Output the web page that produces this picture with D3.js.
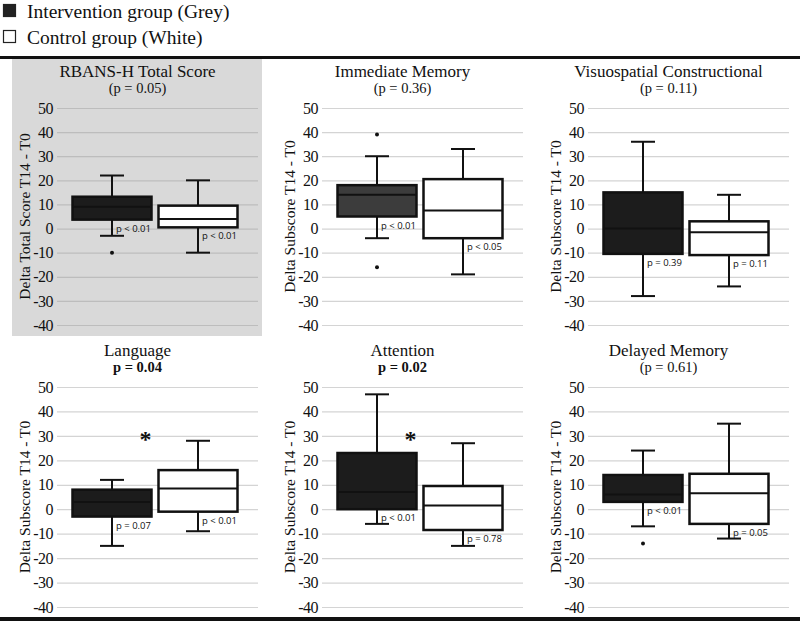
<!DOCTYPE html>
<html><head><meta charset="utf-8">
<script src="https://cdn.jsdelivr.net/npm/d3@7"></script>
<style>body{margin:0;background:#fff}svg{display:block}</style>
</head><body>
<svg id="c" width="800" height="621"></svg>
<script>
// ---- data ----
const titles = ["RBANS-H Total Score","Immediate Memory","Visuospatial Constructional","Language","Attention","Delayed Memory"];
const pOverall = ["(p = 0.05)","(p = 0.36)","(p = 0.11)","p = 0.04","p = 0.02","(p = 0.61)"];
const significant = [false,false,false,true,true,false];
const yLabels = ["Delta Total Score T14 - T0","Delta Subscore T14 - T0","Delta Subscore T14 - T0","Delta Subscore T14 - T0","Delta Subscore T14 - T0","Delta Subscore T14 - T0"];
const groups = ["Intervention group (Grey)","Control group (White)"];
// [whiskerLow, Q1, median, Q3, whiskerHigh]
const interventionStats = [[-3,3.7,9,13.2,22],[-4,5,14,18,30],[-28,-10.5,0,15,36],[-15,-3,3,8,12],[-6,0,7,23,47],[-7,3,6,14,24]];
const controlStats = [[-10,0.5,4,9.5,20],[-19,-4,7.5,20.5,33],[-24,-11,-1.5,3,14],[-9,-1,8.5,16,28],[-15,-8.5,1.5,9.5,27],[-12,-6,6.5,14.5,35]];
const interventionOutliers = [[-10],[39,-16],[],[],[],[-14]];
const controlOutliers = [[],[],[],[],[],[]];
const interventionP = ["p < 0.01","p < 0.01","p = 0.39","p = 0.07","p < 0.01","p < 0.01"];
const controlP = ["p < 0.01","p < 0.05","p = 0.11","p < 0.01","p = 0.78","p = 0.05"];
const yTicks = [50,40,30,20,10,0,-10,-20,-30,-40];
const interventionFill = ["#1c1c1c","#3c3c3c","#1c1c1c","#1c1c1c","#1c1c1c","#1c1c1c"];

// ---- layout ----
const svg = d3.select("#c");
const serif = "'Liberation Serif','Times New Roman',serif";
const sans = "'Open Sans','Liberation Sans',sans-serif";
const colX = [57,322,588];
const rowY = [[108,325],[387,607]]; // [y of 50, y of -40]
const gridW = 201;
const boxW = 79;

// legend
groups.forEach((g,i)=>{
  const y0 = 4 + i*26;
  svg.append("rect").attr("x",3.5).attr("y",y0+0.5).attr("width",12).attr("height",12)
    .attr("fill", i===0 ? "#222" : "#fff").attr("stroke","#222").attr("stroke-width",1.2);
  svg.append("text").attr("x",27).attr("y",y0+14).attr("font-family",serif).attr("font-size",19.5)
    .attr("fill","#111").text(g);
});
svg.append("rect").attr("x",0).attr("y",56).attr("width",800).attr("height",3).attr("fill","#111");
svg.append("rect").attr("x",0).attr("y",617).attr("width",800).attr("height",4).attr("fill","#111");

// grey background panel 1
svg.append("rect").attr("x",12).attr("y",59).attr("width",250).attr("height",277).attr("fill","#d9d9d9");

titles.forEach((t,k)=>{
  const col = k%3, row = Math.floor(k/3);
  const x0 = colX[col];
  const y = d3.scaleLinear().domain([50,-40]).range(rowY[row]);
  const x = d3.scalePoint().domain(groups).range([x0+55, x0+141]);
  const g = svg.append("g");

  // gridlines
  const axis = d3.axisLeft(y).tickValues(yTicks).tickSize(-gridW).tickPadding(4).tickFormat(v=>String(v));
  const ax = g.append("g").attr("transform",`translate(${x0},0)`).call(axis);
  ax.select(".domain").remove();
  ax.selectAll(".tick line").attr("stroke", k===0 ? "#bdbdbd" : "#d4d4d4").attr("stroke-width",1.2);
  ax.selectAll(".tick text").attr("font-family",serif).attr("font-size",16).attr("fill","#111")
    .attr("x",-4).attr("letter-spacing","-0.5");

  // title
  const cx = x0 + gridW/2 - 20;
  g.append("text").attr("x",cx).attr("y",rowY[row][0]-31).attr("text-anchor","middle")
    .attr("font-family",serif).attr("font-size",17).attr("fill","#111").text(t);
  g.append("text").attr("x",cx).attr("y",rowY[row][0]-15).attr("text-anchor","middle")
    .attr("font-family",serif).attr("font-size",14.5).attr("fill","#111")
    .attr("font-weight", significant[k] ? "bold" : "normal").text(pOverall[k]);

  // y label
  const ym = (rowY[row][0]+rowY[row][1])/2;
  g.append("text").attr("transform",`translate(${x0-32},${ym}) rotate(-90)`).attr("text-anchor","middle")
    .attr("dy","0.35em").attr("font-family",serif).attr("font-size",15.5).attr("fill","#111").text(yLabels[k]);

  const sets = [
    {s:interventionStats[k], o:interventionOutliers[k], p:interventionP[k], fill:interventionFill[k], grp:groups[0]},
    {s:controlStats[k], o:controlOutliers[k], p:controlP[k], fill:"#fff", grp:groups[1]}
  ];
  sets.forEach(d=>{
    const c = x(d.grp);
    const [lo,q1,med,q3,hi] = d.s;
    const cap = 12;
    g.append("line").attr("x1",c).attr("x2",c).attr("y1",y(hi)).attr("y2",y(lo)).attr("stroke","#111").attr("stroke-width",2);
    [hi,lo].forEach(v=>g.append("line").attr("x1",c-cap).attr("x2",c+cap).attr("y1",y(v)).attr("y2",y(v))
      .attr("stroke","#111").attr("stroke-width",2));
    g.append("rect").attr("x",c-boxW/2).attr("y",y(q3)).attr("width",boxW).attr("height",y(q1)-y(q3))
      .attr("fill",d.fill).attr("stroke","#111").attr("stroke-width",2.5);
    g.append("line").attr("x1",c-boxW/2).attr("x2",c+boxW/2).attr("y1",y(med)).attr("y2",y(med))
      .attr("stroke","#111").attr("stroke-width",2);
    d.o.forEach(v=>g.append("circle").attr("cx",c).attr("cy",y(v)).attr("r",2).attr("fill","#111"));
    g.append("text").attr("x",c+4).attr("y",y(q1)+12).attr("font-family",sans).attr("font-size",9.5)
      .attr("fill","#111").text(d.p);
  });
  if (significant[k]) {
    g.append("text").attr("x",x(groups[0])+boxW/2-6).attr("y",y(30)).attr("dy","0.45em")
      .attr("font-family",serif).attr("font-weight","bold").attr("font-size",24).attr("text-anchor","middle")
      .attr("fill","#111").text("*");
  }
});
</script>
</body></html>
